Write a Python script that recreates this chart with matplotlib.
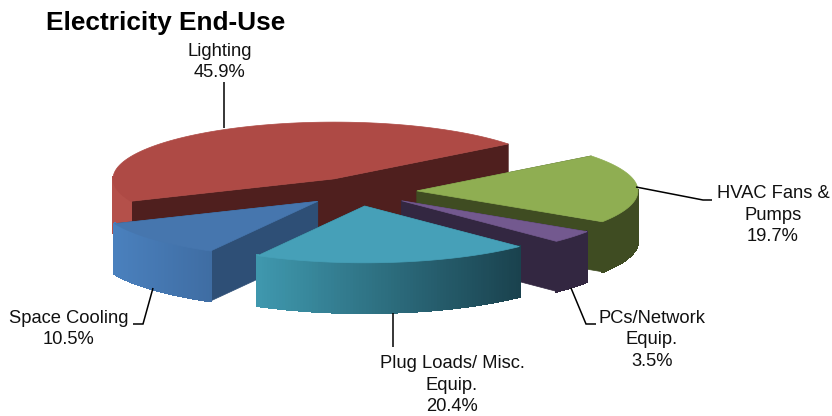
import matplotlib
matplotlib.use('Agg')
import matplotlib.pyplot as plt
import numpy as np

labels = ['Lighting', 'HVAC Fans &\nPumps', 'PCs/Network\nEquip.', 'Plug Loads/ Misc.\nEquip.', 'Space Cooling']
shares = [45.9, 19.7, 3.5, 20.4, 10.5]

top_colors = ['#ae4a45', '#8fae52', '#73598f', '#46a0b8', '#4676ae']
cut_colors = ['#4f1f1e', '#3f4c22', '#332741', '#1e4a57', '#2e4f76']
side_left = ['#b4504a', '#3f4c22', '#332741', '#3f98ae', '#4a80bd']
side_right = ['#ae4a45', '#3f4c22', '#332741', '#1a424e', '#3f6da3']

# label text position, then leader line points (pixels)
text_xy = [(220, 62), (773, 215), (652, 340), (452, 385), (69, 329)]
leaders = [
    [(224, 82), (224, 128)],
    [(636, 187), (703, 200), (712, 200)],
    [(571, 288), (586, 324), (596, 324)],
    [(393, 313), (393, 347)],
    [(153, 288), (143, 324), (133, 324)],
]

cx, cy = 360, 191.5
rx, tilt = 221, 0.257
explode = 57
depth = 50
start = 203.2
# small sideways fix per slice, the original has a bit of perspective
nudge = [3, 0, -2.5, -3, 0]

plt.rcParams['font.family'] = 'Liberation Sans'


def lerp_color(c1, c2, t):
    a = np.array(matplotlib.colors.to_rgb(c1))
    b = np.array(matplotlib.colors.to_rgb(c2))
    return a + (b - a) * t


def draw_slice(ax, a0, a1, i):
    # a0 > a1, slices run clockwise
    mid = np.radians((a0 + a1) / 2)
    ox = cx + explode * np.cos(mid) + nudge[i]
    oy = cy - explode * tilt * np.sin(mid)
    t = np.radians(np.linspace(a0, a1, 90))
    x = ox + rx * np.cos(t)
    y = oy - rx * tilt * np.sin(t)

    # cut faces
    for ex, ey in [(x[0], y[0]), (x[-1], y[-1])]:
        ax.fill([ox, ex, ex, ox], [oy, ey, ey + depth, oy + depth],
                color=cut_colors[i], lw=0.5, zorder=i_order[i])

    # outer wall, only the part facing us
    for j in range(len(t) - 1):
        if np.sin(t[j]) > 0.02 and np.sin(t[j + 1]) > 0.02:
            continue
        f = (x[j] - x.min()) / (x.max() - x.min())
        ax.fill([x[j], x[j + 1], x[j + 1], x[j]],
                [y[j], y[j + 1], y[j + 1] + depth, y[j] + depth],
                color=lerp_color(side_left[i], side_right[i], f), lw=1.2,
                antialiased=False, zorder=i_order[i])

    ax.fill(np.r_[ox, x], np.r_[oy, y], color=top_colors[i], lw=0.5,
            zorder=i_order[i] + 0.5)


# back to front
i_order = [1, 2, 3, 5, 4]

fig = plt.figure(figsize=(8.32, 4.16), dpi=100)
ax = fig.add_axes([0, 0, 1, 1])
ax.set_xlim(0, 832)
ax.set_ylim(416, 0)
ax.axis('off')

edges = start - np.r_[0, np.cumsum(shares)] * 3.6
for i in range(len(shares)):
    draw_slice(ax, edges[i], edges[i + 1], i)

for line in leaders:
    pts = np.array(line)
    ax.plot(pts[:, 0], pts[:, 1], color='black', lw=1.1, zorder=10,
            solid_capstyle='butt', solid_joinstyle='miter')

for name, share, (tx, ty) in zip(labels, shares, text_xy):
    ax.text(tx, ty, f'{name}\n{share}%', ha='center', va='center', fontsize=13.2,
            linespacing=1.36, color='#111111', zorder=11)

ax.text(46, 23, 'Electricity End-Use', fontsize=18.9, fontweight='bold', va='center',
        ha='left')

fig.savefig('out.png', dpi=100)
